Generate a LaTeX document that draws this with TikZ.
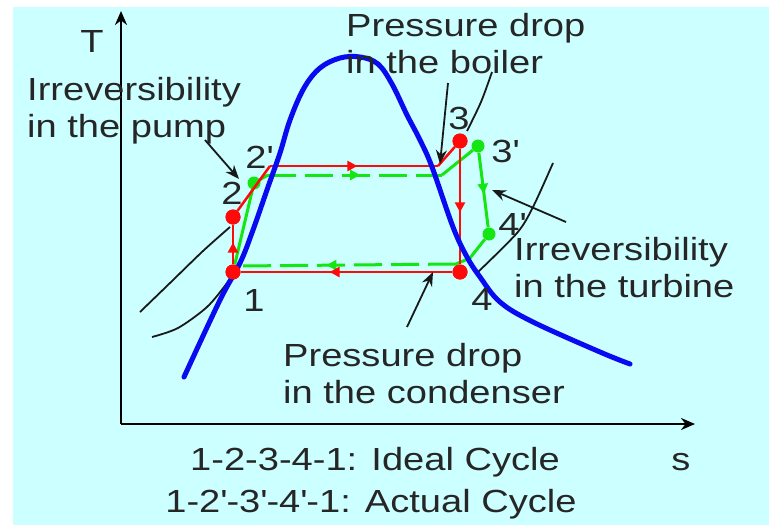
\documentclass[tikz,border=0pt]{standalone}
\usepackage{fontspec}
\setmainfont{Liberation Sans}[FakeStretch=1.19]
\usetikzlibrary{arrows.meta, decorations.markings}
\definecolor{bgcyan}{RGB}{204,255,255}
\definecolor{domeblue}{RGB}{10,10,240}
\definecolor{idealred}{RGB}{255,10,10}
\definecolor{actualgreen}{RGB}{20,230,20}
\newcommand{\prm}{\textquotesingle}

\begin{document}
\begin{tikzpicture}[x=1pt, y=-1pt,
        lbl/.style={inner sep=0pt, font=\fontsize{32}{37}\selectfont, text=black!85},
        note/.style={lbl, align=left, anchor=base west},
        reddot/.style={circle, fill=idealred, inner sep=0pt, minimum size=15pt},
        greendot/.style={circle, fill=actualgreen, inner sep=0pt, minimum size=13pt},
        ideal/.style={idealred, line width=2.5pt},
        actual/.style={actualgreen, line width=3pt, dash pattern=on 28pt off 9pt},
        axis/.style={-{Stealth[length=14pt,width=12pt]}, line width=2.6pt, black},
        pointer/.style={-{Stealth[length=14pt,width=11pt]}, line width=1.8pt, black!90},
        isobar/.style={line width=1.8pt, black!90},
        midarrow/.style={postaction={decorate}, decoration={markings,
            mark=at position #1 with {\arrow{Triangle[length=10pt,width=10pt]}}}}
    ]
        \useasboundingbox (0,0) rectangle (769,525);
        \fill[bgcyan] (13,7) rectangle (769,525);

        % Axes
        \coordinate (origin) at (121,424);
        \coordinate (tmax) at (121,11);
        \coordinate (smax) at (695,424);
        \draw[axis] (origin) -- (tmax);
        \draw[axis] (origin) -- (smax);
        \node[lbl] (tlabel) at (92,41) {T};
        \node[lbl] (slabel) at (681,462) {s};

        % Isobars
        \draw[isobar] plot[smooth] coordinates {(140,312) (170,283) (203,251) (230,227)};
        \draw[isobar] plot[smooth] coordinates {(152,337) (178,328) (207,307) (227,283) (233,272)};
        \draw[isobar] plot[smooth] coordinates {(492,72) (481,102) (467,131)};
        \draw[isobar] plot[smooth] coordinates {(553,163) (533,207) (517,233) (478,272)};

        % Points
        \node[reddot] (p1) at (233,272) {};
        \node[reddot] (p2) at (233,217) {};
        \node[reddot] (p3) at (460,141) {};
        \node[reddot] (p4) at (460,272) {};
        \coordinate (c2) at (270,166);
        \coordinate (c3) at (438,166);
        \node[greendot] (g2) at (254,183) {};
        \node[greendot] (g3) at (478,146) {};
        \node[greendot] (g4) at (489,234) {};
        \coordinate (a2) at (268,175);
        \coordinate (a3) at (442,175);
        \coordinate (a4) at (470,258);
        \coordinate (a1) at (456,264);
        \coordinate (a0) at (240,266);

        % Actual cycle
        \draw[actualgreen, line width=3pt] (p1) -- (g2) -- (a2);
        \draw[actual, midarrow=0.53] (a2) -- (a3);
        \draw[actualgreen, line width=3pt] (a3) -- (g3);
        \draw[actualgreen, line width=3pt, midarrow=0.55] (g3) -- (g4);
        \draw[actualgreen, line width=3pt] (g4) -- (a4) -- (a1);
        \draw[actual, midarrow=0.6] (a1) -- (a0);

        % Ideal cycle
        \draw[ideal, midarrow=0.55] (p1) -- (p2);
        \draw[ideal] (p2) -- (c2);
        \draw[ideal, midarrow=0.52] (c2) -- (c3);
        \draw[ideal] (c3) -- (p3);
        \draw[ideal, midarrow=0.55] (p3) -- (p4);
        \draw[ideal, midarrow=0.58] (p4) -- (p1);

        % Dome
        \draw[domeblue, line width=5pt, line cap=round] plot[smooth, tension=0.6] coordinates {
            (184,377) (220,300) (240,263) (253,230) (268,187) (280,153) (290,120)
            (304,88) (320,68) (340,58) (360,57) (378,64) (392,84) (407,115)
            (420,140) (432,167) (453,227) (467,257) (480,277) (500,302)
            (533,322) (600,352) (630,364)};
        \node[reddot] at (p1) {};
        \node[reddot] at (p2) {};
        \node[reddot] at (p3) {};
        \node[reddot] at (p4) {};

        % Point labels
        \node[lbl] (l1) at (254,300) {1};
        \node[lbl] (l2) at (232,193) {2};
        \node[lbl] (l2a) at (259,157) {2\prm};
        \node[lbl] (l3) at (459,118) {3};
        \node[lbl] (l3a) at (505,151) {3\prm};
        \node[lbl] (l4a) at (512,224) {4\prm};
        \node[lbl] (l4) at (482,299) {4};

        % Notes (anchored at the baseline of the last line)
        \node[note] (boiler) at (346,73) {Pressure drop\\in the boiler};
        \node[note] (pump) at (27,137) {Irreversibility\\in the pump};
        \node[note] (turbine) at (514,297) {Irreversibility\\in the turbine};
        \node[note] (condenser) at (283,403) {Pressure drop\\in the condenser};
        \node[lbl, anchor=base] (ideal) at (375,470) {1-2-3-4-1: Ideal Cycle};
        \node[lbl, anchor=base] (actual) at (371,512) {1-2\prm-3\prm-4\prm-1: Actual Cycle};

        % Arrows
        \coordinate (pumpfrom) at (205,140);
        \coordinate (pumpto) at (239,179);
        \coordinate (boilerfrom) at (448,83);
        \coordinate (boilerto) at (440,164);
        \coordinate (turbinefrom) at (566,222);
        \coordinate (turbineto) at (492,190);
        \coordinate (condenserfrom) at (407,327);
        \coordinate (condenserto) at (433,272);
        \draw[pointer] (pumpfrom) -- (pumpto);
        \draw[pointer] (boilerfrom) -- (boilerto);
        \draw[pointer] (turbinefrom) -- (turbineto);
        \draw[pointer] (condenserfrom) -- (condenserto);
    \end{tikzpicture}
\end{document}
